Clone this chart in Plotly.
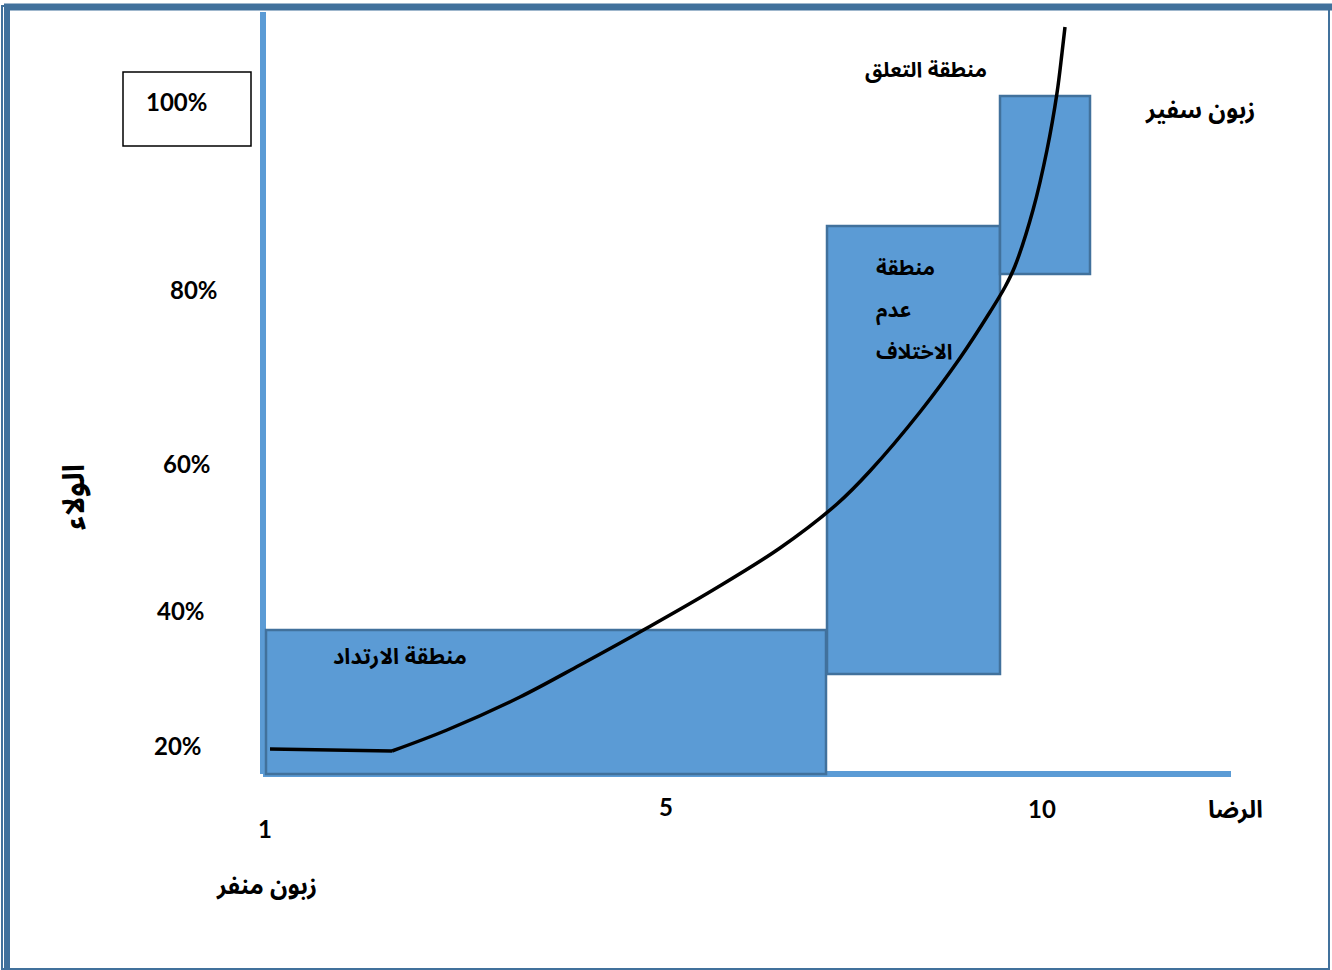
import plotly.graph_objects as go

W, H = 1332, 970

# Canvas coordinates: x grows right, y grows downward (pixel-like diagram units)
BLUE_FILL = "#5b9bd5"
BLUE_EDGE = "#41719c"
FRAME = "#41719c"

# Loyalty axis labels
loyalty_labels = ["20%", "40%", "60%", "80%"]
loyalty_label_x = [178, 181, 187, 194]
loyalty_label_y = [745, 610, 463, 289]
top_label = "100%"

# Satisfaction axis labels
satisfaction_labels = ["1", "5", "10"]
satisfaction_label_x = [265, 666, 1042]
satisfaction_label_y = [828, 806, 808]

# Zones (rectangles)
zone_x0 = [266, 827, 1000]
zone_x1 = [826, 1000, 1090]
zone_top = [630, 226, 96]
zone_bottom = [774, 674, 274]

# Loyalty / satisfaction curve: flat start then rising branch
flat_x = [270, 392]
flat_y = [749, 751]
rise_x = [392, 447, 520, 580, 647, 713, 780, 837, 870, 920, 960, 990, 1005, 1015, 1033, 1047, 1057, 1062, 1065]
rise_y = [751, 730, 697, 665, 628, 590, 548, 504, 471, 412, 358, 312, 287, 266, 210, 150, 93, 53, 27]

# Arabic texts
retreat_zone = "منطقة الارتداد"
indifference_zone = ["منطقة", "عدم", "الاختلاف"]
indifference_line_y = [268, 310, 352]
attachment_zone = "منطقة التعلق"
ambassador = "زبون سفير"
axis_title_x = "الرضا"
axis_title_y = "الولاء"
low_end_label = "زبون منفر"

NUM_FONT = dict(family="Lato, Open Sans, sans-serif", size=24, color="black")
AR_FAMILY = "Noto Sans Arabic, Noto Naskh Arabic, Arial, DejaVu Sans, sans-serif"


def ar_font(size):
    return dict(family=AR_FAMILY, size=size, color="black")


fig = go.Figure()

fig.add_trace(go.Scatter(x=flat_x, y=flat_y, mode="lines",
                         line=dict(color="black", width=3.5), hoverinfo="skip"))
fig.add_trace(go.Scatter(x=rise_x, y=rise_y, mode="lines",
                         line=dict(color="black", width=3.5, shape="spline", smoothing=1.0),
                         hoverinfo="skip"))

shapes = []
# outer frame: thin full border plus heavier top and left edges
shapes.append(dict(type="rect", xref="x", yref="y", x0=2, x1=1329, y0=6, y1=969,
                   line=dict(color=FRAME, width=2), layer="below"))
shapes.append(dict(type="line", xref="x", yref="y", x0=4, x1=1332, y0=7, y1=7,
                   line=dict(color=FRAME, width=7), layer="below"))
shapes.append(dict(type="line", xref="x", yref="y", x0=7, x1=7, y0=4, y1=970,
                   line=dict(color=FRAME, width=6), layer="below"))

# axes lines
shapes.append(dict(type="line", xref="x", yref="y", x0=263, x1=263, y0=12, y1=774,
                   line=dict(color=BLUE_FILL, width=6), layer="below"))
shapes.append(dict(type="line", xref="x", yref="y", x0=263, x1=1231, y0=774, y1=774,
                   line=dict(color=BLUE_FILL, width=6), layer="below"))

# zone rectangles
for x0, x1, y0, y1 in zip(zone_x0, zone_x1, zone_top, zone_bottom):
    shapes.append(dict(type="rect", xref="x", yref="y", x0=x0, x1=x1, y0=y0, y1=y1,
                       fillcolor=BLUE_FILL, line=dict(color=BLUE_EDGE, width=2.5), layer="below"))

# box around the 100% label
shapes.append(dict(type="rect", xref="x", yref="y", x0=123, x1=251, y0=72, y1=146,
                   fillcolor="white", line=dict(color="black", width=1.5), layer="below"))


def label(x, y, text, font, xanchor="center", **kw):
    return dict(x=x, y=y, text=f"<b>{text}</b>", showarrow=False, font=font,
                xanchor=xanchor, yanchor="middle", **kw)


annotations = []
for t, x, y in zip(loyalty_labels, loyalty_label_x, loyalty_label_y):
    annotations.append(label(x, y, t, NUM_FONT))
annotations.append(label(176, 101, top_label, NUM_FONT))
for t, x, y in zip(satisfaction_labels, satisfaction_label_x, satisfaction_label_y):
    annotations.append(label(x, y, t, NUM_FONT))

# zone labels
annotations.append(label(400, 657, retreat_zone, ar_font(22)))
for t, y in zip(indifference_zone, indifference_line_y):
    annotations.append(label(874, y, t, ar_font(21), xanchor="left"))
annotations.append(label(926, 70, attachment_zone, ar_font(21)))
annotations.append(label(1200, 110, ambassador, ar_font(24)))

# axis titles
annotations.append(label(1235, 810, axis_title_x, ar_font(24)))
annotations.append(label(266, 886, low_end_label, ar_font(24)))
annotations.append(label(74, 497, axis_title_y, ar_font(30), textangle=-90))

fig.update_layout(
    width=W, height=H,
    margin=dict(l=0, r=0, t=0, b=0),
    paper_bgcolor="white", plot_bgcolor="white",
    showlegend=False,
    shapes=shapes, annotations=annotations,
    xaxis=dict(range=[0, W], visible=False, fixedrange=True),
    yaxis=dict(range=[H, 0], visible=False, fixedrange=True),
)

fig.write_html("out.html", config={"displayModeBar": False})
